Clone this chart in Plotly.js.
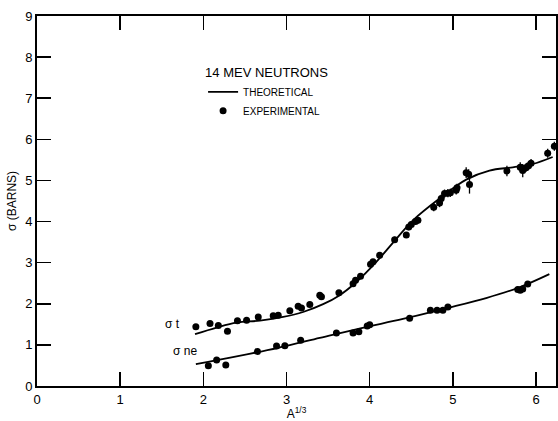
<!DOCTYPE html>
<html>
<head>
<meta charset="utf-8">
<script src="https://cdn.plot.ly/plotly-3.0.1.min.js"></script>
<style>
  html, body { margin: 0; padding: 0; background: #fff; }
  #chart { width: 558px; height: 421px; }
</style>
</head>
<body>
<div id="chart"></div>
<script>
// 14 MeV neutron cross sections (barns) against A^(1/3)

// Total cross section, measured
const totalA = [1.91, 2.08, 2.18, 2.29, 2.41, 2.52, 2.66, 2.84, 2.90, 3.04, 3.14, 3.18, 3.28, 3.40, 3.42,
                3.63, 3.80, 3.83, 3.89, 4.01, 4.04, 4.12, 4.30, 4.44, 4.47, 4.50, 4.55, 4.58, 4.77, 4.84,
                4.86, 4.90, 4.94, 4.97, 5.04, 5.05, 5.16, 5.19, 5.20, 5.65, 5.81, 5.84, 5.88, 5.91, 5.94,
                6.14, 6.22];
const totalSigma = [1.44, 1.52, 1.47, 1.33, 1.59, 1.60, 1.68, 1.71, 1.72, 1.83, 1.94, 1.90, 1.98, 2.21, 2.17,
                    2.27, 2.49, 2.57, 2.67, 2.96, 3.02, 3.18, 3.56, 3.67, 3.87, 3.93, 4.00, 4.03, 4.35, 4.45,
                    4.56, 4.68, 4.69, 4.70, 4.76, 4.82, 5.19, 5.15, 4.90, 5.23, 5.32, 5.24, 5.31, 5.36, 5.42,
                    5.66, 5.83];
const totalErr = [0.05, 0.05, 0.05, 0.05, 0.05, 0.05, 0.05, 0.05, 0.05, 0.05, 0.05, 0.05, 0.05, 0.06, 0.06,
                  0.06, 0.06, 0.06, 0.06, 0.06, 0.06, 0.06, 0.07, 0.07, 0.08, 0.08, 0.08, 0.08, 0.10, 0.10,
                  0.10, 0.10, 0.10, 0.10, 0.10, 0.10, 0.13, 0.12, 0.22, 0.13, 0.12, 0.16, 0.10, 0.10, 0.10,
                  0.11, 0.11];

// Non-elastic cross section, measured
const nonelA = [2.06, 2.16, 2.27, 2.65, 2.88, 2.98, 3.17, 3.60, 3.80, 3.87, 3.97, 4.00, 4.48, 4.73, 4.81,
                4.88, 4.94, 5.78, 5.81, 5.84, 5.90];
const nonelSigma = [0.49, 0.63, 0.51, 0.84, 0.97, 0.98, 1.11, 1.29, 1.29, 1.32, 1.46, 1.49, 1.65, 1.84, 1.84,
                    1.84, 1.92, 2.35, 2.33, 2.36, 2.48];
const nonelErr = [0.05, 0.05, 0.05, 0.05, 0.05, 0.05, 0.05, 0.05, 0.05, 0.05, 0.05, 0.05, 0.05, 0.05, 0.05,
                  0.05, 0.05, 0.07, 0.07, 0.07, 0.07];

// Theoretical curves
const theoryTotalA = [1.90, 2.16, 2.40, 2.68, 2.96, 3.20, 3.44, 3.64, 3.84, 4.08, 4.32, 4.52, 4.84, 5.16,
                      5.44, 5.72, 5.96, 6.20];
const theoryTotalSigma = [1.26, 1.42, 1.54, 1.59, 1.68, 1.80, 1.99, 2.21, 2.53, 3.02, 3.58, 4.03, 4.56, 5.02,
                          5.24, 5.32, 5.40, 5.57];
const theoryNonelA = [1.91, 2.40, 2.90, 3.40, 3.90, 4.40, 4.90, 5.40, 5.80, 6.16];
const theoryNonelSigma = [0.53, 0.72, 0.93, 1.17, 1.41, 1.63, 1.88, 2.14, 2.40, 2.72];

// Axis ticks
const xTicks = [0, 1, 2, 3, 4, 5, 6];
const yTicks = [0, 1, 2, 3, 4, 5, 6, 7, 8, 9];

const INK = '#000';
const FONT = 'Liberation Sans, Arial, sans-serif';

const curveLine = { color: INK, width: 1.8, shape: 'spline', smoothing: 1 };
const dots = { color: INK, size: 7, symbol: 'circle' };
const bars = (arr) => ({ type: 'data', array: arr, visible: true, color: INK, thickness: 1.3, width: 0 });

const traces = [
  { x: theoryTotalA, y: theoryTotalSigma, mode: 'lines', line: curveLine,
    name: 'THEORETICAL', showlegend: true, hoverinfo: 'skip' },
  { x: totalA, y: totalSigma, mode: 'markers', marker: dots, error_y: bars(totalErr),
    name: 'EXPERIMENTAL', showlegend: true },
  { x: theoryNonelA, y: theoryNonelSigma, mode: 'lines', line: curveLine,
    name: 'THEORETICAL', showlegend: false, hoverinfo: 'skip' },
  { x: nonelA, y: nonelSigma, mode: 'markers', marker: dots, error_y: bars(nonelErr),
    name: 'EXPERIMENTAL', showlegend: false }
];

const axisCommon = {
  showgrid: false, zeroline: false,
  showline: true, linecolor: INK, linewidth: 2, mirror: 'ticks',
  ticks: 'inside', ticklen: 14, tickwidth: 1.5, tickcolor: INK,
  tickfont: { family: FONT, size: 13, color: INK },
  automargin: false
};

const layout = {
  width: 558, height: 421,
  margin: { l: 37, r: 2, t: 16, b: 35 },
  paper_bgcolor: '#fff', plot_bgcolor: '#fff',
  font: { family: FONT, color: INK },
  xaxis: Object.assign({}, axisCommon, {
    range: [0, 6.24], tickvals: xTicks, ticktext: xTicks.map(String),
    title: { text: 'A<sup>1/3</sup>', font: { family: FONT, size: 12, color: INK }, standoff: 2 }
  }),
  yaxis: Object.assign({}, axisCommon, {
    range: [0, 9], tickvals: yTicks, ticktext: yTicks.map(String),
    title: { text: 'σ (BARNS)', font: { family: FONT, size: 12, color: INK }, standoff: 6 }
  }),
  showlegend: true,
  legend: {
    x: 0.32, y: 0.88, xanchor: 'left', yanchor: 'top',
    bgcolor: 'rgba(0,0,0,0)', borderwidth: 0,
    font: { family: FONT, size: 10, color: INK },
    title: { text: '14 MEV NEUTRONS', font: { family: FONT, size: 13, color: INK } },
    tracegroupgap: 0
  },
  annotations: [
    { x: 1.63, y: 1.52, xref: 'x', yref: 'y', text: 'σ t', showarrow: false,
      font: { family: FONT, size: 12, color: INK } },
    { x: 1.78, y: 0.85, xref: 'x', yref: 'y', text: 'σ ne', showarrow: false,
      font: { family: FONT, size: 12, color: INK } }
  ]
};

Plotly.newPlot('chart', traces, layout, { staticPlot: true, displayModeBar: false });
</script>
</body>
</html>
